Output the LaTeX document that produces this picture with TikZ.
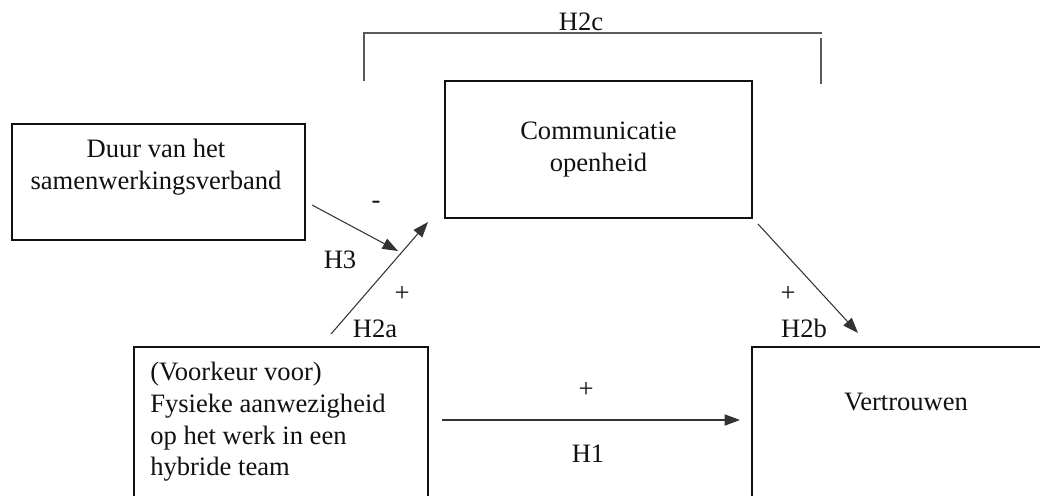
\documentclass[tikz,border=0pt]{standalone}
\usepackage{fontspec}
\setmainfont{Liberation Serif}
\usetikzlibrary{arrows.meta,positioning,calc}
\definecolor{inkdark}{HTML}{111111}
\definecolor{arrowgray}{HTML}{333333}
\definecolor{bracegray}{HTML}{5A5A5A}
\newcommand{\px}{0.025cm}
\tikzset{
  concept/.style={draw=inkdark, line width=1.2pt, inner sep=0pt, outer sep=0pt,
    anchor=north west},
  ctext/.style={font=\fontsize{18.9}{22.5}\selectfont, text=inkdark, inner sep=0pt},
  hypo/.style={-{Triangle[length=11pt,width=8pt]}, line width=0.75pt, color=arrowgray},
  hlabel/.style={ctext, anchor=base},
  brace/.style={line width=0.75pt, color=bracegray},
}

\begin{document}
\begin{tikzpicture}[x=\px, y=-\px]
  \useasboundingbox (0,0) rectangle (1040,495);
  \clip (0,0) rectangle (1040,495);
  % the four constructs
  \node[concept, minimum width=293*\px, minimum height=116*\px] (duur) at (12,124) {};
  \node[concept, ctext, align=center, minimum width=307*\px, minimum height=137*\px]
    (comm) at (445,81) {Communicatie\\openheid};
  \node[concept, minimum width=294*\px, minimum height=200*\px] (pref) at (134,347) {};
  \node[concept, minimum width=400*\px, minimum height=200*\px] (trust) at (752,347) {};
  % texts in the boxes
  \node[ctext, align=center, anchor=north] (duurtxt) at (156,139)
    {Duur van het\\samenwerkingsverband};
  \node[ctext, align=left, anchor=north west] (preftxt) at (150,362)
    {(Voorkeur voor)\\Fysieke aanwezigheid\\op het werk in een\\hybride team};
  \node[hlabel] (trusttxt) at (906,410) {Vertrouwen};
  % H2c bracket over the mediator
  \coordinate (brl) at (364,81);
  \coordinate (brr) at (821,84);
  \draw[brace] (brl) -- (364,33) -- (822,33);
  \draw[brace] (brr) -- (821,38);
  \node[hlabel] (h2c) at (581,30) {H2c};
  % hypothesised paths
  \coordinate (h3s) at (312,205);
  \coordinate (h3e) at (398,251);
  \coordinate (h2as) at (331,334);
  \coordinate (h2ae) at (428,222);
  \coordinate (h2bs) at (758,224);
  \coordinate (h2be) at (858,333);
  \coordinate (h1s) at (442,420);
  \coordinate (h1e) at (740,420);
  \draw[hypo] (h3s) -- (h3e);
  \draw[hypo] (h2as) -- (h2ae);
  \draw[hypo] (h2bs) -- (h2be);
  \draw[hypo] (h1s) -- (h1e);
  % signs and labels
  \node[hlabel] (sgn3) at (376,208.5) {-};
  \node[hlabel] (lab3) at (340,268) {H3};
  \node[hlabel] (sgn2a) at (402,301) {+};
  \node[hlabel] (lab2a) at (375,337) {H2a};
  \node[hlabel] (sgn2b) at (788,301) {+};
  \node[hlabel] (lab2b) at (804,337) {H2b};
  \node[hlabel] (sgn1) at (586,397) {+};
  \node[hlabel] (lab1) at (588,462) {H1};
\end{tikzpicture}
\end{document}
